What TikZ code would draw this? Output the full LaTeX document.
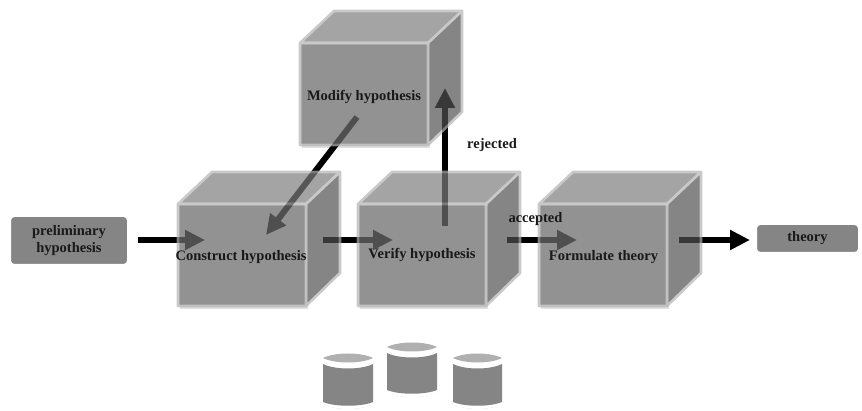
\documentclass[tikz,border=0pt]{standalone}
\usepackage{fontspec}
\setmainfont{Liberation Serif}
\usetikzlibrary{arrows.meta,shadows,backgrounds}
\definecolor{cubefront}{gray}{0.443}
\definecolor{cubetop}{gray}{0.49}
\definecolor{cubeside}{gray}{0.318}
\definecolor{cubeedge}{gray}{0.70}
\definecolor{boxfill}{gray}{0.52}
\definecolor{lidfill}{gray}{0.69}
\pgfdeclarelayer{arrowlayer}
\pgfdeclarelayer{cubelayer}
\pgfsetlayers{arrowlayer,cubelayer,main}
\tikzset{
  cubeface/.style={draw=cubeedge,line width=2.6pt,line join=round},
  label text/.style={font=\bfseries\fontsize{14.5}{17}\selectfont,text=black!90,align=center},
  flow/.style={line width=6pt,draw=black,-{Triangle[length=20pt,width=19pt]},shorten >=0pt},
  terminal/.style={rounded corners=5pt,fill=boxfill,draw=white,line width=4pt,
    drop shadow={shadow xshift=0pt,shadow yshift=-2pt,fill=black,opacity=.22}},
  lid/.style={fill=lidfill},
  drum/.style={fill=boxfill},
  drumback/.style={fill=white,draw=white,line width=4pt,line join=round,
    drop shadow={shadow xshift=0pt,shadow yshift=-2pt,fill=black,opacity=.2}}
}
% name, left, top of the front face
\newcommand{\mycube}[3]{%
  \begin{scope}[shift={(#2,#3)}]
    \fill[black,opacity=.12] (2,2) rectangle (130,105);
    \begin{scope}[transparency group,opacity=.7]
      \path[cubeface,fill=cubetop] (0,0) -- (34,-32) -- (162,-32) -- (128,0) -- cycle;
      \path[cubeface,fill=cubeside] (128,0) -- (162,-32) -- (162,69) -- (128,102) -- cycle;
      \path[cubeface,fill=cubefront] (0,0) rectangle (128,102);
    \end{scope}
    \coordinate (#1) at (64,51);
  \end{scope}}
% name, left, right, lid top, bottom
\newcommand{\mydrum}[5]{%
  \path[drumback] (#2-1,#4+5) .. controls (#2+10,#4-3) and (#3-10,#4-3) .. (#3+1,#4+5)
     -- (#3+1,#5-5) .. controls (#3-10,#5+3) and (#2+10,#5+3) .. (#2-1,#5-5) -- cycle;
  \path[lid] (#2,#4+5) .. controls (#2+12,#4-1) and (#3-12,#4-1) .. (#3,#4+5)
     .. controls (#3-12,#4+11) and (#2+12,#4+11) .. (#2,#4+5) -- cycle;
  \path[drum] (#2,#4+11) .. controls (#2+12,#4+17) and (#3-12,#4+17) .. (#3,#4+11)
     -- (#3,#5-4) .. controls (#3-12,#5+1) and (#2+12,#5+1) .. (#2,#5-4) -- cycle;
  \coordinate (#1) at ({(#2+#3)/2},{(#4+#5)/2});}
\begin{document}
\begin{tikzpicture}[x=1pt,y=-1pt]
  \useasboundingbox (0,0) rectangle (862,411);
  \node[terminal,minimum width=120pt,minimum height=51pt,inner sep=0pt,
        label text] (prelim) at (69,240.5) {preliminary\\hypothesis};
  \node[terminal,minimum width=105pt,minimum height=31pt,inner sep=0pt,
        label text] (theory) at (807.5,238.5) {theory};
  \begin{pgfonlayer}{cubelayer}
    \mycube{cmodify}{300}{43}
    \mycube{cconstruct}{178}{204}
    \mycube{cverify}{358}{204}
    \mycube{cformulate}{539}{204}
  \end{pgfonlayer}
  \node[label text] (modify) at (364,97) {Modify hypothesis};
  \node[label text] (construct) at (241,257) {Construct hypothesis};
  \node[label text] (verify) at (422,255) {Verify hypothesis};
  \node[label text] (formulate) at (603.5,257) {Formulate theory};
  \node[label text] (rejected) at (492,145) {rejected};
  \node[label text] (accepted) at (535.5,219) {accepted};
  \coordinate (a1) at (prelim.east |- 0,240);
  \coordinate (a1s) at ([xshift=7pt]a1);
  \coordinate (a1e) at (205,240);
  \coordinate (a2s) at (323,240);
  \coordinate (a2e) at (393,240);
  \coordinate (a3s) at (507,240);
  \coordinate (a3e) at (577,240);
  \coordinate (a4s) at (679,240);
  \coordinate (a4e) at ([xshift=-3pt]theory.west |- 0,240);
  \coordinate (a5s) at (357,117);
  \coordinate (a5e) at (266,235);
  \coordinate (a6s) at (445,226);
  \coordinate (a6e) at (445,88);
  \begin{pgfonlayer}{arrowlayer}
    \draw[flow] (a1s) -- (a1e);
    \draw[flow] (a2s) -- (a2e);
    \draw[flow] (a3s) -- (a3e);
    \draw[flow] (a4s) -- (a4e);
    \draw[flow] (a5s) -- (a5e);
    \draw[flow] (a6s) -- (a6e);
  \end{pgfonlayer}
  \mydrum{d1}{323}{373}{353}{406}
  \mydrum{d2}{387}{437}{342}{394}
  \mydrum{d3}{453}{502}{353}{406}
\end{tikzpicture}
\end{document}
